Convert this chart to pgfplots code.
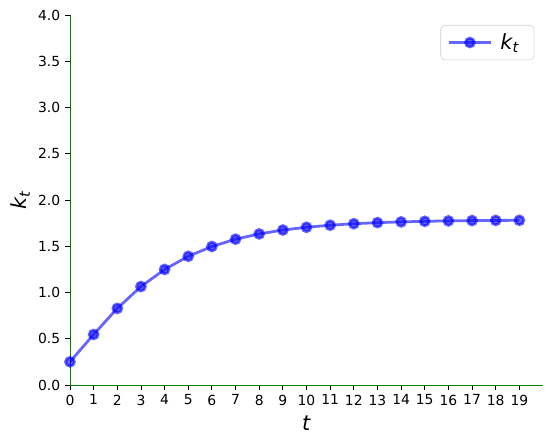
\documentclass[border=0pt]{standalone}
\usepackage{fontspec}
\setmainfont{DejaVu Sans}
\usepackage{pgfplots}
\pgfplotsset{compat=1.18}
\definecolor{mplgreen}{RGB}{0,128,0}
\definecolor{mplblue}{RGB}{0,0,255}
\definecolor{legframe}{RGB}{204,204,204}

\begin{document}
\begin{tikzpicture}
\begin{axis}[
  width=340.6pt, height=266.4pt, scale only axis,
  xmin=0, xmax=20, ymin=0, ymax=4,
  axis x line*=bottom, axis y line*=left,
  axis line style={mplgreen, -},
  xtick={0,...,19}, ytick={0,0.5,...,4},
  tick align=outside, tick pos=left,
  major tick length=3.5pt,
  tick style={black, line width=0.6pt},
  tick label style={font=\fontsize{10}{12}\selectfont},
  /pgf/number format/assume math mode=true,
  yticklabel style={/pgf/number format/.cd, fixed, fixed zerofill, precision=1},
  xlabel={\fontsize{15}{18}\selectfont\textit{t}},
  ylabel={\fontsize{15}{18}\selectfont\textit{k\textsubscript{t}}},
  xlabel style={yshift=-1pt},
  ylabel style={yshift=-1pt},
  legend style={at={(0.982,0.973)}, anchor=north east, draw=legframe,
    rounded corners=3pt, font=\fontsize{15}{18}\selectfont,
    inner xsep=5pt, inner ysep=4pt,
    nodes={inner xsep=6pt}},
  legend image code/.code={
    \draw[#1, mark repeat=2, mark phase=2] plot coordinates {(-2pt,0pt) (13pt,0pt) (28pt,0pt)};},
  legend cell align=left,
]
\addplot[mplblue, opacity=0.6, line width=2pt, mark=*, mark size=3.2pt,
  mark options={fill=mplblue, draw=mplblue}]
coordinates {
(0,0.25) (1,0.546) (2,0.828) (3,1.064) (4,1.249) (5,1.391) (6,1.497)
(7,1.576) (8,1.633) (9,1.675) (10,1.705) (11,1.727) (12,1.743)
(13,1.755) (14,1.763) (15,1.769) (16,1.774) (17,1.777) (18,1.779) (19,1.780)
};
\addlegendentry{\textit{k\textsubscript{t}}}
\end{axis}
\pgfresetboundingbox
\path (current axis.south west) ++(-50.4pt,-41.8pt) coordinate (bl);
\path (current axis.north east) ++(7.2pt,10.8pt) coordinate (tr);
\path (bl) rectangle (tr);
\end{tikzpicture}
\end{document}
